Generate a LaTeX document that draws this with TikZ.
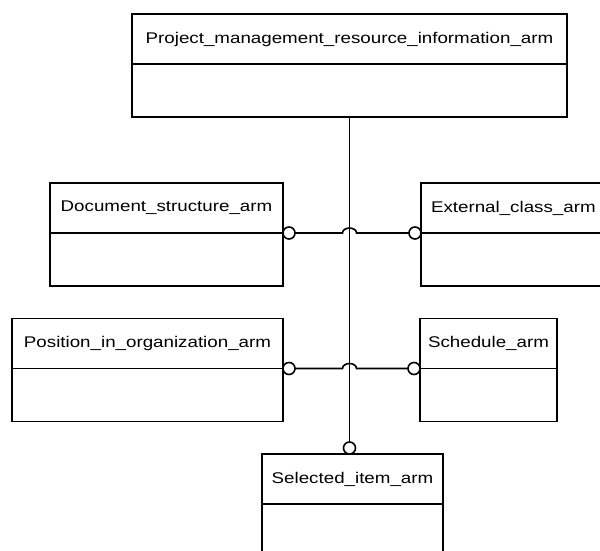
\documentclass[tikz,border=0pt]{standalone}
\usepackage{fontspec}
\setmainfont{Liberation Sans}
\usepackage{tikz}
\usetikzlibrary{
  positioning,
  arrows.meta
}
\newcommand{\armlabel}[1]{\raisebox{-1.5pt}{\scalebox{1.21}[1]{#1}}}

\tikzset{
	every node/.style={outer sep=0pt},
	hdr/.style={draw, rectangle, minimum height=50pt, inner sep=0pt,
		font=\fontsize{15.5}{18}\selectfont},
	bdy/.style={draw, rectangle, minimum height=53pt, inner sep=0pt},
	lolli/.style={draw, circle, fill=white, minimum size=12pt, inner sep=0pt}
}

\begin{document}
\begin{tikzpicture}[x=1pt, y=-1pt, line width=1.6pt]

	    \clip (0,0) rectangle (600,550);
	    \fill[white] (0,0) rectangle (600,550);

	    % top entity
	    \node[hdr, minimum width=435pt] (pm) at (349.5,39)
	        {\armlabel{Project\_management\_resource\_information\_arm}};
	    \node[bdy, minimum width=435pt, below=0pt of pm] (pmb) {};

	    % left entities
	    \node[hdr, minimum width=233pt] (doc) at (166.5,208)
	        {\armlabel{Document\_structure\_arm}};
	    \node[bdy, minimum width=233pt, below=0pt of doc] (docb) {};

	    \node[hdr, minimum width=271pt] (pos) at (147.5,343.5)
	        {\armlabel{Position\_in\_organization\_arm}};
	    \node[bdy, minimum width=271pt, below=0pt of pos] (posb) {};

	    % right entities
	    \node[hdr, minimum width=200pt, text width=180pt, align=left] (ext) at (521,208)
	        {\armlabel{External\_class\_arm}};
	    \node[bdy, minimum width=200pt, below=0pt of ext] (extb) {};

	    \node[hdr, minimum width=137pt] (sch) at (488.5,343.5)
	        {\armlabel{Schedule\_arm}};
	    \node[bdy, minimum width=137pt, below=0pt of sch] (schb) {};

	    % bottom entity
	    \node[hdr, minimum width=181pt] (sel) at (352.5,479)
	        {\armlabel{Selected\_item\_arm}};
	    \node[bdy, minimum width=181pt, below=0pt of sel] (selb) {};

	    % trunk
	    \coordinate (trunk) at (sel.north -| pmb.south);
	    \node[lolli, above=0pt of trunk] (selc) {};
	    \draw (pmb.south) -- (selc.north);

	    % branches with jump over the trunk
	    \node[lolli, right=0pt of docb.north east] (docc) {};
	    \node[lolli, left=0pt of extb.north west] (extc) {};
	    \draw (docc.east) -- ([xshift=-7pt]docc.east -| pmb.south)
	        arc[start angle=180, end angle=0, x radius=7pt, y radius=5pt]
	        -- (extc.west);

	    \node[lolli, right=0pt of posb.north east] (posc) {};
	    \node[lolli, left=0pt of schb.north west] (schc) {};
	    \draw (posc.east) -- ([xshift=-7pt]posc.east -| pmb.south)
	        arc[start angle=180, end angle=0, x radius=7pt, y radius=5pt]
	        -- (schc.west);

\end{tikzpicture}
\end{document}
